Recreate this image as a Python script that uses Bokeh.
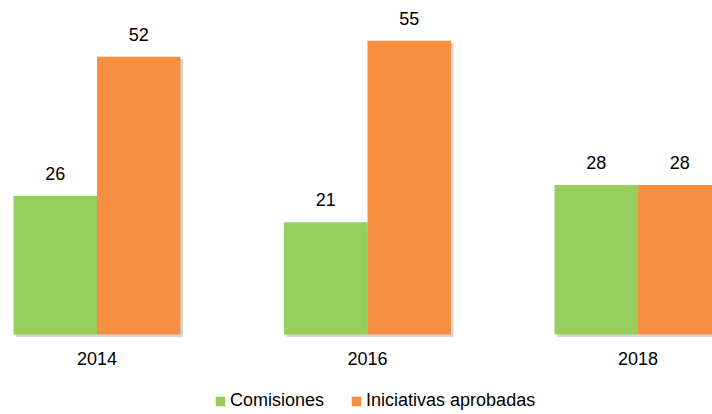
from bokeh.plotting import figure
from bokeh.models import ColumnDataSource, Range1d, FixedTicker, Legend, LegendItem, LabelSet
from bokeh.transform import dodge
from bokeh.core.properties import value
from bokeh.embed import file_html
from bokeh.resources import INLINE

# ---- data ----
years = ["2014", "2016", "2018"]
comisiones = [26, 21, 28]
iniciativas = [52, 55, 28]
series_names = ["Comisiones", "Iniciativas aprobadas"]

# ---- style / layout constants ----
FONT = "Liberation Sans"
FS = "18px"
GREEN = "#96CF5D"
ORANGE = "#F68F41"
FIG_W, FIG_H = 712, 414
GROUP_PX = 270.5          # pixel distance between group centres
FIRST_PX = 96.5           # pixel position of first group centre
BAR_PX = 83.5             # bar width in pixels
PX_PER_VAL = 5.34         # vertical pixels per unit
ZERO_PX = 334             # pixels from top to zero line
SHADOW_PX = 2.5

pos = list(range(len(years)))
x_start = -FIRST_PX / GROUP_PX
x_end = x_start + FIG_W / GROUP_PX
bw = BAR_PX / GROUP_PX
y_end = ZERO_PX / PX_PER_VAL
y_start = -(FIG_H - ZERO_PX) / PX_PER_VAL
sh_y = SHADOW_PX / PX_PER_VAL
sh_x = SHADOW_PX / GROUP_PX

src = ColumnDataSource(dict(pos=pos, years=years, com=comisiones, ini=iniciativas,
                            com_s=[v - sh_y for v in comisiones],
                            ini_s=[v - sh_y for v in iniciativas],
                            com_t=[str(v) for v in comisiones],
                            ini_t=[str(v) for v in iniciativas]))

p = figure(frame_width=FIG_W, frame_height=FIG_H,
           x_range=Range1d(x_start, x_end), y_range=Range1d(y_start, y_end),
           output_backend="svg", toolbar_location=None,
           min_border_left=0, min_border_right=0, min_border_top=0, min_border_bottom=0)
p.outline_line_color = None
p.grid.visible = False
p.yaxis.visible = False

# soft shadows
for off, col in ((-bw / 2 + sh_x, "com_s"), (bw / 2 + sh_x, "ini_s")):
    p.vbar(x=dodge("pos", off, range=p.x_range), top=col, bottom=-sh_y, width=bw,
           source=src, fill_color="#000000", fill_alpha=0.16, line_color=None)

r1 = p.vbar(x=dodge("pos", -bw / 2, range=p.x_range), top="com", bottom=0, width=bw,
            source=src, fill_color=GREEN, line_color=None)
r2 = p.vbar(x=dodge("pos", bw / 2, range=p.x_range), top="ini", bottom=0, width=bw,
            source=src, fill_color=ORANGE, line_color=None)

for col, txt, off in (("com", "com_t", -bw / 2), ("ini", "ini_t", bw / 2)):
    lab = LabelSet(x=dodge("pos", off, range=p.x_range), y=col, text=txt, source=src,
                   y_offset=16, text_align="center", text_baseline="alphabetic",
                   text_font=value(FONT), text_font_size=value(FS), text_color="#000000")
    p.add_layout(lab)

ax = p.xaxis[0]
ax.fixed_location = 0
ax.ticker = FixedTicker(ticks=pos)
ax.major_label_overrides = {i: y for i, y in zip(pos, years)}
ax.axis_line_color = None
ax.major_tick_line_color = None
ax.minor_tick_line_color = None
ax.major_tick_out = 0
ax.major_tick_in = 0
ax.major_label_standoff = 17
ax.major_label_text_font = FONT
ax.major_label_text_font_size = FS
ax.major_label_text_color = "#000000"

legend = Legend(items=[LegendItem(label=series_names[0], renderers=[r1]),
                       LegendItem(label=series_names[1], renderers=[r2])],
                orientation="horizontal", location=(214, 3),
                glyph_width=12, glyph_height=12, label_standoff=4, spacing=26,
                label_text_font=FONT, label_text_font_size=FS,
                label_text_color="#000000", border_line_color=None,
                background_fill_alpha=0, padding=0, margin=0,
                label_height=12, label_width=10)
p.add_layout(legend, "center")

open("out.html", "w").write(file_html(p, INLINE))
